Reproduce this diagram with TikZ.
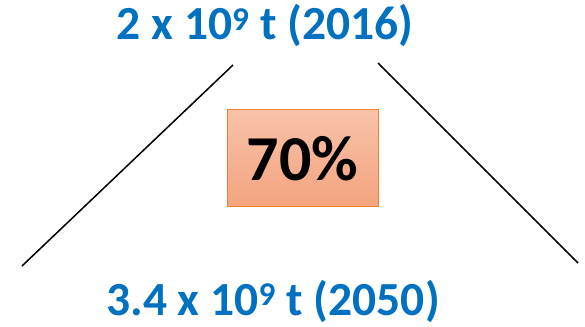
\documentclass[tikz,border=0pt]{standalone}
\usepackage{fontspec}
\setmainfont{Carlito}
\definecolor{tblue}{HTML}{0070C0}
\definecolor{boxtop}{HTML}{F8C2A9}
\definecolor{boxbot}{HTML}{F4A47F}
\definecolor{boxline}{HTML}{F08030}
\begin{document}
\begin{tikzpicture}[x=1pt,y=1pt,
  lbl/.style={text=tblue,font=\bfseries\fontsize{47.5}{54}\selectfont,inner sep=0pt,anchor=base},
  pct/.style={draw=boxline,line width=1pt,top color=boxtop,bottom color=boxbot,
    minimum width=151pt,minimum height=97pt,inner sep=0pt,
    font=\bfseries\fontsize{64}{70}\selectfont},
  ln/.style={line width=1.5pt,black}]
\useasboundingbox (0,0) rectangle (585,326);
\node[lbl] (top) at (265,286) {2 x 10\textsuperscript{9} t (2016)};
\node[lbl] (bot) at (273,11) {3.4 x 10\textsuperscript{9} t (2050)};
\node[pct] (box) at (302.5,167.5) {70\%};
\coordinate (tl) at (233,261);
\coordinate (bl) at (22,60);
\coordinate (tr) at (378,263);
\coordinate (br) at (578,63);
\draw[ln] (tl) -- (bl);
\draw[ln] (tr) -- (br);
\end{tikzpicture}
\end{document}
